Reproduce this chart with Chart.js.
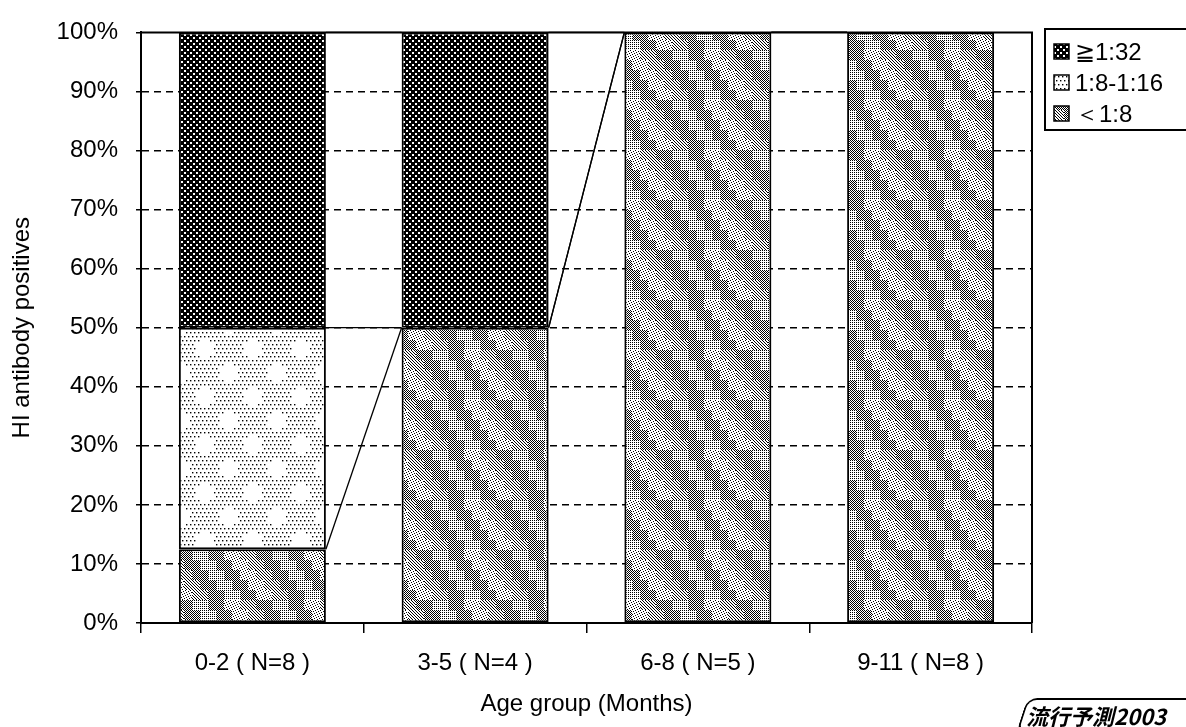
<!DOCTYPE html>
<html>
<head>
<meta charset="utf-8">
<script src="https://cdn.jsdelivr.net/npm/chart.js@4.4.0/dist/chart.umd.min.js"></script>
<style>
  html, body { margin: 0; padding: 0; background: #fff; overflow: hidden; }
  #wrap { position: relative; width: 1186px; height: 727px; }
  #stamp {
    position: absolute; left: 1016px; top: 698px; width: 200px; height: 31px;
    border: 2px solid #000; border-right: none; border-radius: 10px 0 0 10px;
    transform: skewX(-18deg); transform-origin: bottom left;
  }
  #stampText {
    position: absolute; left: 1026px; top: 699px;
    font: italic bold 22px "Noto Sans CJK JP", sans-serif; color: #000; white-space: nowrap;
  }
</style>
</head>
<body>
<div id="wrap">
  <canvas id="chart" width="1186" height="727"></canvas>
  <div id="stamp"></div>
  <div id="stampText">流行予測2003</div>
</div>
<script>
// data: counts per titre group
const ageGroups = ['0-2 ( N=8 )', '3-5 ( N=4 )', '6-8 ( N=5 )', '9-11 ( N=8 )'];
const groupN = [8, 4, 5, 8];
const lowCounts = [1, 2, 5, 8];   // <1:8
const midCounts = [3, 0, 0, 0];   // 1:8-1:16
const highCounts = [4, 2, 0, 0];  // >=1:32
const seriesLabels = ['＜1:8', '1:8-1:16', '≧1:32'];
const yTicks = [0, 10, 20, 30, 40, 50, 60, 70, 80, 90, 100];

function pct(counts) {
  return counts.map((c, i) => c / groupN[i] * 100);
}

// fill patterns
const tmpCtx = document.createElement('canvas').getContext('2d');
function makePattern(w, h, draw) {
  const c = document.createElement('canvas');
  c.width = w; c.height = h;
  draw(c.getContext('2d'), w, h);
  return tmpCtx.createPattern(c, 'repeat');
}

const darkPattern = makePattern(6, 6, (g) => {
  g.fillStyle = '#000'; g.fillRect(0, 0, 6, 6);
  g.fillStyle = '#fff';
  g.fillRect(1, 1, 2, 2);
  g.fillRect(4, 4, 2, 2);
});

const lightPattern = makePattern(48, 48, (g) => {
  g.fillStyle = '#fff'; g.fillRect(0, 0, 48, 48);
  g.fillStyle = '#000';
  const holes = [[12, 12], [36, 36]];
  for (let y = 0; y < 48; y += 4) {
    for (let x = ((y / 4) % 2) * 2; x < 48; x += 4) {
      const inHole = holes.some(h => (x - h[0]) ** 2 + (y - h[1]) ** 2 < 90);
      if (!inHole) g.fillRect(x, y, 1.4, 1.4);
    }
  }
});

// brick-like mix of grey dots and diagonal hatching
const grayPattern = makePattern(80, 50, (g) => {
  g.fillStyle = '#fff'; g.fillRect(0, 0, 80, 50);
  g.fillStyle = '#000';
  for (let y = 0; y < 50; y++) {
    const row = Math.floor(y / 10);
    for (let x = 0; x < 80; x++) {
      const sx = (x + row * 8) % 80;
      const col = Math.floor(sx / 16);
      const kind = (col - row + 10) % 5;
      let on = false;
      if (kind === 0) on = (x - y + 100) % 3 === 0;
      else if (kind === 1) on = (x + y) % 2 === 0;
      else if (kind === 2) on = x % 2 === 0 && y % 2 === 0;
      else if (kind === 3) on = (x + y) % 2 === 0 && (x - y + 100) % 4 !== 1;
      else on = (x + 2 * y) % 5 === 0;
      if (on) g.fillRect(x, y, 1, 1);
    }
  }
});

const fonts = '"Liberation Sans", Arial, sans-serif';

// series lines, frame and legend
const extrasPlugin = {
  id: 'extras',
  afterDatasetsDraw(chart) {
    const ctx = chart.ctx;
    const area = chart.chartArea;
    ctx.save();
    ctx.strokeStyle = '#000';
    ctx.lineWidth = 1.3;
    chart.data.datasets.forEach((ds, d) => {
      const bars = chart.getDatasetMeta(d).data;
      for (let i = 0; i < bars.length - 1; i++) {
        const a = bars[i], b = bars[i + 1];
        ctx.beginPath();
        ctx.moveTo(a.x + a.width / 2, a.y);
        ctx.lineTo(b.x - b.width / 2, b.y);
        ctx.stroke();
      }
    });
    // top and right frame
    ctx.lineWidth = 2;
    ctx.beginPath();
    ctx.moveTo(area.left, area.top);
    ctx.lineTo(area.right, area.top);
    ctx.lineTo(area.right, area.bottom);
    ctx.stroke();

    // legend
    const lx = 1045, ly = 29;
    ctx.lineWidth = 2;
    ctx.strokeRect(lx, ly, 160, 101);
    ctx.font = '24px ' + fonts;
    ctx.textBaseline = 'middle';
    const order = [2, 1, 0];
    order.forEach((d, k) => {
      const cy = ly + 23 + k * 31;
      const ds = chart.data.datasets[d];
      ctx.fillStyle = ds.backgroundColor;
      ctx.fillRect(lx + 9, cy - 8, 15, 15);
      ctx.lineWidth = 1.5;
      ctx.strokeRect(lx + 9, cy - 8, 15, 15);
      ctx.fillStyle = '#000';
      ctx.fillText(ds.label, lx + 30, cy + 1);
    });
    ctx.restore();
  }
};

const ctx = document.getElementById('chart');
new Chart(ctx, {
  type: 'bar',
  data: {
    labels: ageGroups,
    datasets: [
      { label: seriesLabels[0], data: pct(lowCounts), backgroundColor: grayPattern },
      { label: seriesLabels[1], data: pct(midCounts), backgroundColor: lightPattern },
      { label: seriesLabels[2], data: pct(highCounts), backgroundColor: darkPattern }
    ].map(ds => Object.assign(ds, {
      borderColor: '#000', borderWidth: 2, borderSkipped: false,
      barPercentage: 0.66, categoryPercentage: 1
    }))
  },
  options: {
    responsive: false,
    animation: false,
    layout: { padding: { left: 0, right: 154, top: 23, bottom: 0 } },
    plugins: { legend: { display: false }, tooltip: { enabled: false } },
    scales: {
      x: {
        stacked: true,
        afterFit(scale) { scale.height = 104; },
        grid: { offset: true, drawOnChartArea: false, drawTicks: true, tickLength: 10, color: '#000', lineWidth: 1.5 },
        border: { display: true, color: '#000', width: 2 },
        ticks: { color: '#000', padding: 16, font: { family: fonts, size: 24 } },
        title: { display: true, text: 'Age group (Months)', color: '#000', padding: { top: 0, bottom: 8 }, font: { family: fonts, size: 24 } }
      },
      y: {
        stacked: true,
        min: 0, max: 100,
        afterFit(scale) { scale.width = 141; },
        afterBuildTicks(scale) { scale.ticks = yTicks.map(v => ({ value: v })); },
        grid: {
          drawTicks: true, tickLength: 5, lineWidth: 1.5,
          color: c => (c.tick && (c.tick.value === 0 || c.tick.value === 100)) ? 'rgba(0,0,0,0)' : '#000',
          tickColor: '#000', tickWidth: 1.5, tickBorderDash: []
        },
        border: { display: true, color: '#000', width: 2, dash: [7, 5] },
        ticks: { color: '#000', padding: 18, font: { family: fonts, size: 24 }, callback: v => v + '%' },
        title: { display: true, text: 'HI antibody positives', color: '#000', padding: { top: 8, bottom: 0 }, font: { family: fonts, size: 24 } }
      }
    }
  },
  plugins: [extrasPlugin]
});
</script>
</body>
</html>
